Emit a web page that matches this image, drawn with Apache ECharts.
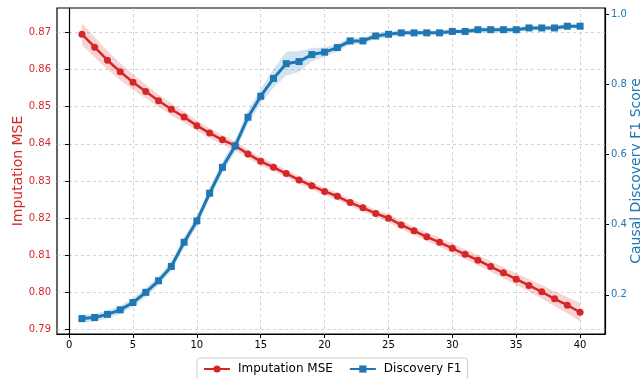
<!DOCTYPE html>
<html>
<head>
<meta charset="utf-8">
<script src="https://cdn.jsdelivr.net/npm/echarts@6/dist/echarts.min.js"></script>
<style>
  html, body { margin: 0; padding: 0; background: #fff; }
  #chart { width: 640px; height: 379px; }
</style>
</head>
<body>
<div id="chart"></div>
<script>
// x = 1..40
const steps = Array.from({ length: 40 }, (_, i) => i + 1);

const mseMean = [
  0.8695, 0.8660, 0.8625, 0.8594, 0.8566, 0.8541, 0.8516, 0.8493, 0.8472, 0.8449,
  0.8429, 0.8411, 0.8395, 0.8373, 0.8353, 0.8337, 0.8320, 0.8303, 0.8287, 0.8272,
  0.8259, 0.8242, 0.8228, 0.8213, 0.8200, 0.8182, 0.8166, 0.8150, 0.8135, 0.8119,
  0.8103, 0.8087, 0.8070, 0.8053, 0.8036, 0.8019, 0.8002, 0.7983, 0.7966, 0.7947,
];
const mseStd = [
  0.0030, 0.0027, 0.0025, 0.0023, 0.0021, 0.0019, 0.0017, 0.0016, 0.0015, 0.0014,
  0.0013, 0.0013, 0.0012, 0.0012, 0.0011, 0.0011, 0.0010, 0.0010, 0.0010, 0.0010,
  0.0010, 0.0010, 0.0010, 0.0010, 0.0011, 0.0011, 0.0011, 0.0012, 0.0012, 0.0013,
  0.0013, 0.0014, 0.0014, 0.0015, 0.0016, 0.0017, 0.0018, 0.0020, 0.0022, 0.0025,
];

const f1Mean = [
  0.132, 0.135, 0.144, 0.157, 0.178, 0.207, 0.240, 0.281, 0.350, 0.411,
  0.490, 0.564, 0.625, 0.707, 0.767, 0.818, 0.860, 0.866, 0.886, 0.893,
  0.906, 0.925, 0.925, 0.939, 0.944, 0.948, 0.948, 0.948, 0.948, 0.952,
  0.952, 0.957, 0.957, 0.957, 0.957, 0.962, 0.962, 0.962, 0.967, 0.967,
];
const f1Std = [
  0.011, 0.011, 0.011, 0.012, 0.012, 0.013, 0.013, 0.014, 0.015, 0.015,
  0.016, 0.017, 0.017, 0.019, 0.021, 0.027, 0.034, 0.030, 0.019, 0.013,
  0.011, 0.010, 0.009, 0.008, 0.008, 0.007, 0.007, 0.007, 0.007, 0.007,
  0.007, 0.007, 0.007, 0.007, 0.007, 0.007, 0.007, 0.007, 0.007, 0.007,
];

const xTicks = [0, 5, 10, 15, 20, 25, 30, 35, 40];
const mseTicks = [0.79, 0.80, 0.81, 0.82, 0.83, 0.84, 0.85, 0.86, 0.87];
const f1Ticks = [0.2, 0.4, 0.6, 0.8, 1.0];

const red = '#d62728';
const blue = '#1f77b4';
const font = 'DejaVu Sans';

const pairs = (ys) => steps.map((x, i) => [x, ys[i]]);

// shaded mean +/- std band, drawn as one polygon through the axis scales
const bandSeries = (mean, std, yAxisIndex, color) => ({
  type: 'custom', yAxisIndex, silent: true, z: 1,
  data: [[steps[0], mean[0]]],
  renderItem: (params, api) => {
    const upper = steps.map((x, i) => api.coord([x, mean[i] + std[i]]));
    const lower = steps.map((x, i) => api.coord([x, mean[i] - std[i]])).reverse();
    return {
      type: 'polygon',
      shape: { points: upper.concat(lower) },
      style: { fill: color, opacity: 0.2 },
    };
  },
});

const chart = echarts.init(document.getElementById('chart'));
chart.setOption({
  animation: false,
  grid: {
    left: 57, right: 35, top: 8, bottom: 45,
    outerBoundsMode: 'none', containLabel: false,
    show: true, borderColor: '#000', borderWidth: 1.2,
  },
  legend: {
    data: ['Imputation MSE', 'Discovery F1'],
    top: 358, left: 197,
    itemWidth: 26, itemHeight: 9, itemGap: 16,
    borderColor: '#cccccc', borderWidth: 1, borderRadius: 3,
    padding: [5, 6],
    textStyle: { fontFamily: font, fontSize: 12, color: '#000', padding: [0, 0, 0, 3] },
  },
  xAxis: {
    type: 'value', min: -0.95, max: 41.95,
    axisLine: { show: true, lineStyle: { color: '#000', width: 1.2 } },
    axisTick: { show: true, customValues: xTicks, length: 4, lineStyle: { color: '#000' } },
    axisLabel: { customValues: xTicks, fontFamily: font, fontSize: 10, color: '#000', margin: 6 },
    splitLine: { show: true, lineStyle: { color: '#c8c8c8', type: [3, 3], width: 0.8 } },
  },
  yAxis: [
    {
      type: 'value', position: 'left', min: 0.78885, max: 0.87655,
      name: 'Imputation MSE', nameLocation: 'middle', nameGap: 32, nameRotate: 90,
      nameMoveOverlap: false,
      nameTextStyle: { fontFamily: font, fontSize: 14, color: red },
      axisLine: { show: true, lineStyle: { color: '#000', width: 1.2 } },
      axisTick: { show: true, customValues: mseTicks, length: 4, lineStyle: { color: '#000' } },
      axisLabel: {
        customValues: mseTicks, fontFamily: font, fontSize: 10, color: red, margin: 6,
        formatter: (v) => v.toFixed(2),
      },
      splitLine: { show: true, lineStyle: { color: '#c8c8c8', type: [3, 3], width: 0.8 } },
    },
    {
      type: 'value', position: 'right', min: 0.088, max: 1.019,
      name: 'Causal Discovery F1 Score', nameLocation: 'middle', nameGap: 24, nameRotate: 90,
      nameMoveOverlap: false,
      nameTextStyle: { fontFamily: font, fontSize: 14, color: blue },
      axisLine: { show: true, lineStyle: { color: '#000', width: 1.2 } },
      axisTick: { show: true, customValues: f1Ticks, length: 4, lineStyle: { color: '#000' } },
      axisLabel: {
        customValues: f1Ticks, fontFamily: font, fontSize: 10, color: blue, margin: 6,
        formatter: (v) => v.toFixed(1),
      },
      splitLine: { show: false },
    },
  ],
  series: [
    bandSeries(mseMean, mseStd, 0, red),
    bandSeries(f1Mean, f1Std, 1, blue),
    {
      name: 'Imputation MSE', type: 'line', yAxisIndex: 0,
      symbol: 'circle', symbolSize: 7,
      color: red, lineStyle: { color: red, width: 2.5 }, itemStyle: { color: red },
      data: pairs(mseMean),
      z: 5,
    },
    {
      name: 'Discovery F1', type: 'line', yAxisIndex: 1,
      symbol: 'rect', symbolSize: 7,
      color: blue, lineStyle: { color: blue, width: 3 }, itemStyle: { color: blue },
      data: pairs(f1Mean),
      z: 6,
    },
  ],
});
</script>
</body>
</html>
